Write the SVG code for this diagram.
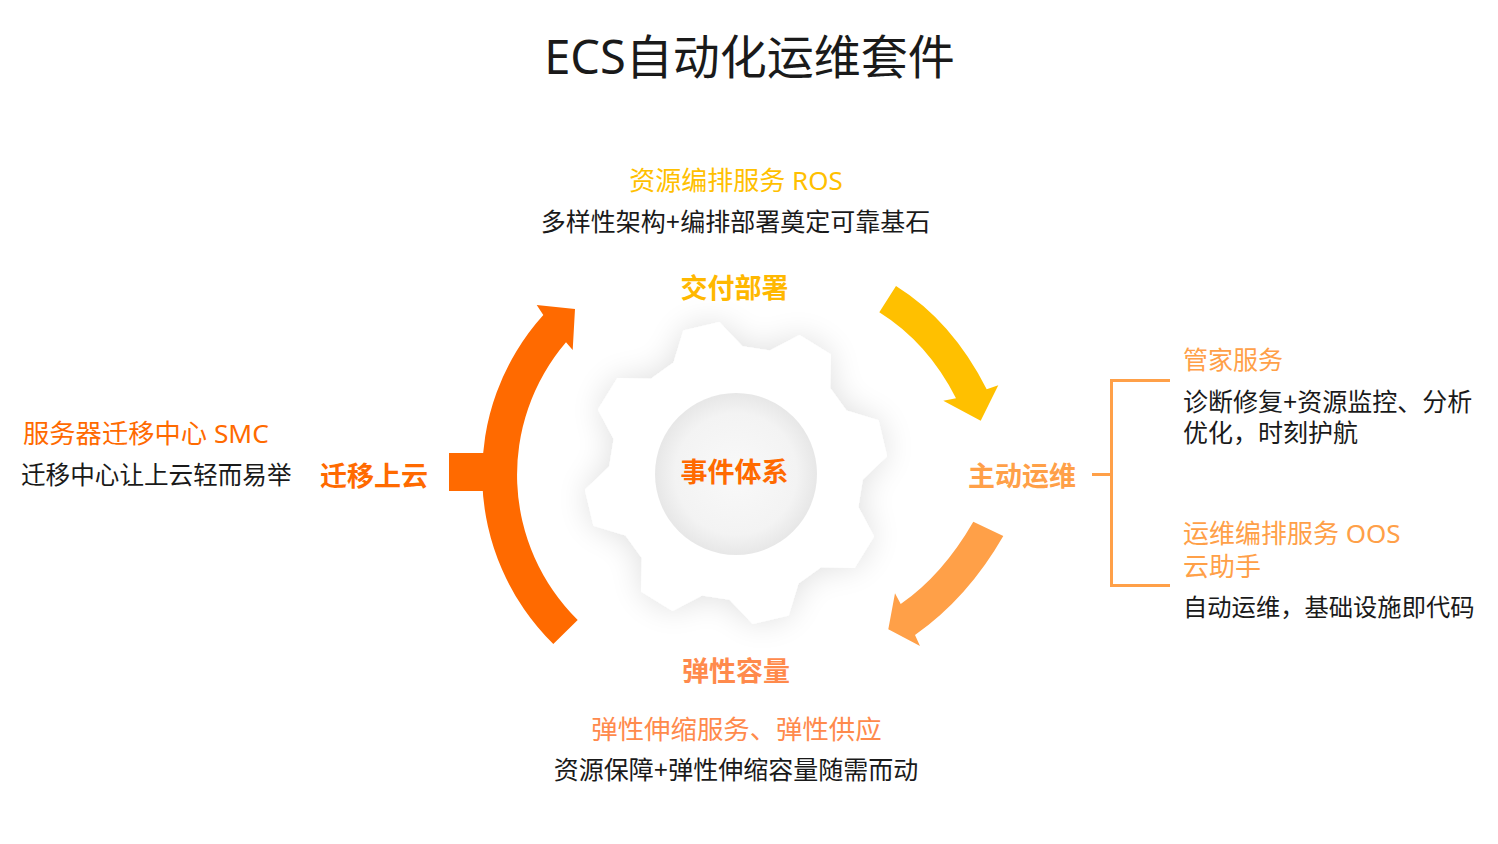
<svg xmlns="http://www.w3.org/2000/svg" width="1498" height="844" viewBox="0 0 1498 844">
<defs>
<style>
text { font-family: "Noto Sans", "Noto Sans CJK SC", sans-serif; }
.title { font-size: 47px; fill: #1a1a1a; }
.h { font-size: 26px; }
.d { font-size: 25px; fill: #1a1a1a; }
.b { font-size: 27px; font-weight: 700; }
.c { text-anchor: middle; }
.y { fill: #ffc000; }
.y2 { fill: #ffb800; }
.o1 { fill: #ff6a00; }
.o2 { fill: #ffa048; }
.o3 { fill: #ff8a4c; }
.bracket { fill: none; stroke: #ffa048; stroke-width: 3; }
</style>
<filter id="glow" x="-50%" y="-50%" width="200%" height="200%">
<feGaussianBlur in="SourceAlpha" stdDeviation="16"/>
<feComponentTransfer><feFuncA type="linear" slope="0.13"/></feComponentTransfer>
<feMerge><feMergeNode/><feMergeNode in="SourceGraphic"/></feMerge>
</filter>
<radialGradient id="hub" cx="50%" cy="50%" r="50%">
<stop offset="0" stop-color="#f9f9f9"/>
<stop offset="0.75" stop-color="#f3f3f3"/>
<stop offset="1" stop-color="#e7e7e7"/>
</radialGradient>
</defs>
<rect width="1498" height="844" fill="#ffffff"/>

<text id="title" class="title c" x="749.5" y="74">ECS自动化运维套件</text>

<g id="node-core">
<polygon filter="url(#glow)" fill="#ffffff" points="673.5,362.5 683.3,330.4 719.3,321.9 742.4,346.2 769.9,350.6 799.5,334.9 831.0,354.4 830.2,387.9 846.5,410.5 878.6,420.3 887.1,456.3 862.8,479.4 858.4,506.9 874.1,536.5 854.6,568.0 821.1,567.2 798.5,583.5 788.7,615.6 752.7,624.1 729.6,599.8 702.1,595.4 672.5,611.1 641.0,591.6 641.8,558.1 625.5,535.5 593.4,525.7 584.9,489.7 609.2,466.6 613.6,439.1 597.9,409.5 617.4,378.0 650.9,378.8"/>
<circle cx="736" cy="474" r="81" fill="url(#hub)"/>
<text class="b c o1" x="734.5" y="482">事件体系</text>
</g>

<g id="connectors">
<path fill="#ffc000" d="M 896,286 Q 952.3,321.1 986.7,389.3 L 998.3,385.3 L 980.7,420.7 L 943.3,400.7 L 956,398.3 Q 927.8,342.6 879.3,312.3 Z"/>
<path fill="#ffa048" d="M 973.3,521.7 Q 942.7,574.9 900.7,604 L 895,593.3 L 888.3,629.3 L 920,646 L 915,635 Q 967.8,597.9 1003.3,536 Z"/>
<path fill="#ff6a00" d="M 553.3,644 A 238 238 0 0 1 543.3,315 L 536.7,305 L 575,309 L 572.7,350 L 566,342.3 A 204 204 0 0 0 577.7,620 Z"/>
<rect fill="#ff6a00" x="449" y="453" width="45" height="38"/>
</g>

<g id="node-deliver">
<text class="h c y" x="736" y="190">资源编排服务 ROS</text>
<text class="d c" x="735.5" y="231">多样性架构+编排部署奠定可靠基石</text>
<text class="b c y2" x="734.5" y="298">交付部署</text>
</g>

<g id="node-ops">
<text class="b o2" x="968" y="486">主动运维</text>
<path class="bracket" d="M 1170,380.5 H 1111.5 V 585.5 H 1170 M 1092,474.5 H 1111.5"/>
<text class="o2" x="1183" y="369" style="font-size:25px">管家服务</text>
<text class="d" x="1183" y="411">诊断修复+资源监控、分析</text>
<text class="d" x="1183" y="442">优化，时刻护航</text>
<text class="h o2" x="1183" y="543">运维编排服务 OOS</text>
<text class="h o2" x="1183" y="576">云助手</text>
<text class="d" x="1183" y="616" style="font-size:24.3px">自动运维，基础设施即代码</text>
</g>

<g id="node-elastic">
<text class="b c o3" x="736" y="681">弹性容量</text>
<text class="c o3" x="736.5" y="739" style="font-size:26.4px">弹性伸缩服务、弹性供应</text>
<text class="d c" x="736" y="779">资源保障+弹性伸缩容量随需而动</text>
</g>

<g id="node-migrate">
<text class="o1" x="23" y="443" style="font-size:26.3px">服务器迁移中心 SMC</text>
<text class="d" x="21" y="484" style="font-size:24.6px">迁移中心让上云轻而易举</text>
<text class="b o1" x="320" y="486">迁移上云</text>
</g>
</svg>
